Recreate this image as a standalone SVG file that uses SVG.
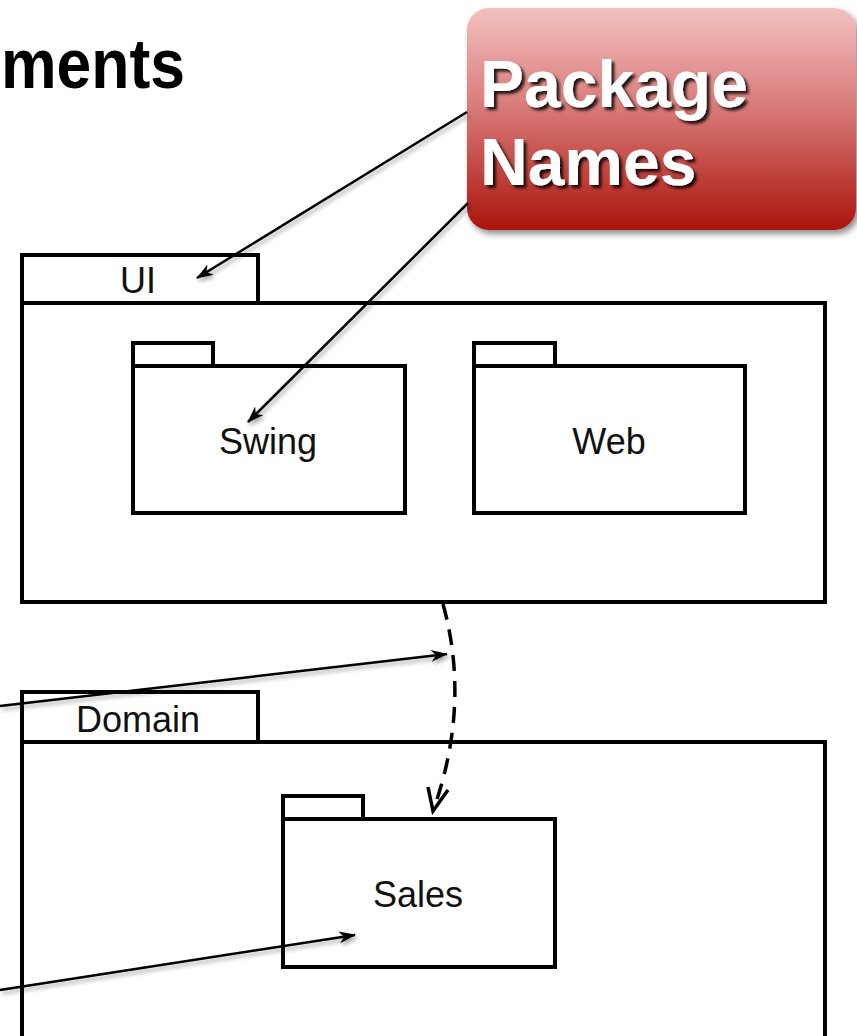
<svg xmlns="http://www.w3.org/2000/svg" width="857" height="1036" viewBox="0 0 857 1036">
<defs>
<style>
.pk{fill:#fff;stroke:#000;stroke-width:4;stroke-linejoin:miter}
.lbl{font-family:"Liberation Sans",Arial,sans-serif;font-size:36px;fill:#111;text-anchor:middle}
.arr{stroke:#000;stroke-width:2.5;fill:none}
.big{font-family:"Liberation Sans",Arial,sans-serif;font-weight:bold;font-size:66px;fill:#fff}
</style>
<linearGradient id="red" x1="0" y1="0" x2="0" y2="1">
<stop offset="0" stop-color="#f3c0c0"/>
<stop offset="0.45" stop-color="#d87a78"/>
<stop offset="1" stop-color="#ab140c"/>
</linearGradient>
<filter id="sh" x="-10%" y="-10%" width="130%" height="130%">
<feDropShadow dx="3" dy="4" stdDeviation="3" flood-color="#000" flood-opacity="0.45"/>
</filter>
<filter id="ash" x="-10%" y="-50%" width="120%" height="200%">
<feDropShadow dx="2" dy="3" stdDeviation="2" flood-color="#000" flood-opacity="0.35"/>
</filter>
<filter id="tsh" x="-10%" y="-20%" width="130%" height="150%">
<feDropShadow dx="3" dy="3" stdDeviation="1.5" flood-color="#000" flood-opacity="0.85"/>
</filter>
<marker id="ah" viewBox="0 0 17 12" refX="16" refY="6" markerWidth="17" markerHeight="12" markerUnits="userSpaceOnUse" orient="auto">
<path d="M0,0 L17,6 L0,12 L5,6 z" fill="#000"/>
</marker>
</defs>

<text x="1" y="88" font-family="'Liberation Sans',Arial,sans-serif" font-weight="bold" font-size="70" textLength="184" lengthAdjust="spacingAndGlyphs" fill="#000">ments</text>

<g id="pkg-ui">
<rect class="pk" x="22" y="255" width="236" height="48"/>
<rect class="pk" x="22" y="303" width="803" height="299"/>
<text class="lbl" x="138" y="293">UI</text>
</g>
<g id="pkg-swing">
<rect class="pk" x="133" y="343" width="80" height="23"/>
<rect class="pk" x="133" y="366" width="272" height="147"/>
<text class="lbl" x="268" y="454">Swing</text>
</g>
<g id="pkg-web">
<rect class="pk" x="474" y="343" width="81" height="23"/>
<rect class="pk" x="474" y="366" width="271" height="147"/>
<text class="lbl" x="609" y="454">Web</text>
</g>
<g id="pkg-domain">
<rect class="pk" x="22" y="692" width="236" height="50"/>
<rect class="pk" x="22" y="742" width="803" height="320"/>
<text class="lbl" x="138" y="732">Domain</text>
</g>
<g id="pkg-sales">
<rect class="pk" x="283" y="796" width="80" height="23"/>
<rect class="pk" x="283" y="819" width="272" height="148"/>
<text class="lbl" x="418" y="907">Sales</text>
</g>

<g id="callout">
<rect x="467" y="8" width="389" height="222" rx="22" ry="22" fill="url(#red)" filter="url(#sh)"/>
<g filter="url(#tsh)">
<text class="big" x="480" y="107">Package</text>
<text class="big" x="480" y="185">Names</text>
</g>
</g>

<g id="connectors">
<path d="M443,604 Q471,705 433,811" fill="none" stroke="#000" stroke-width="3.5" stroke-dasharray="16 10"/>
<polyline points="428,787 433,811 448,790" fill="none" stroke="#000" stroke-width="3.5"/>
<g filter="url(#ash)">
<line class="arr" x1="467" y1="112" x2="197" y2="278" marker-end="url(#ah)"/>
<line class="arr" x1="468" y1="203" x2="248" y2="422" marker-end="url(#ah)"/>
<line class="arr" x1="0" y1="706" x2="447" y2="654" marker-end="url(#ah)"/>
<line class="arr" x1="0" y1="990" x2="355" y2="935" marker-end="url(#ah)"/>
</g>
</g>
</svg>
